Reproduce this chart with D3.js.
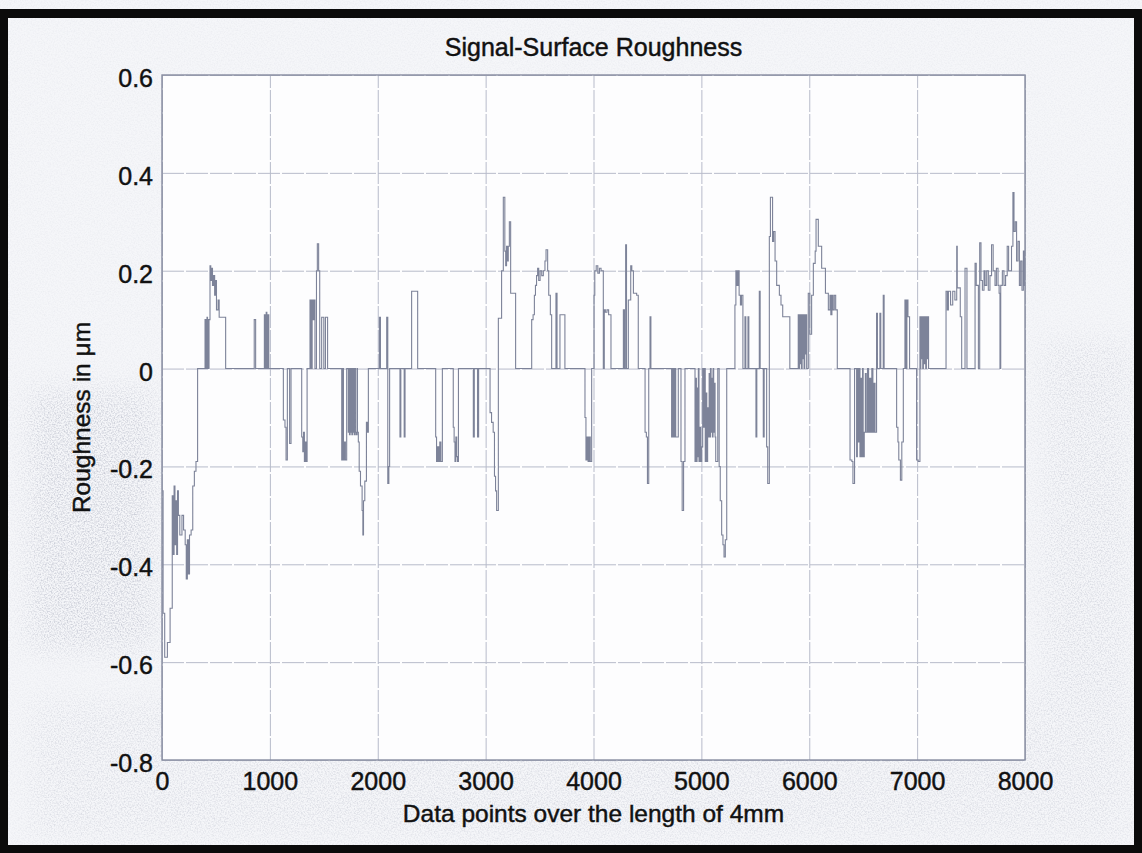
<!DOCTYPE html>
<html>
<head>
<meta charset="utf-8">
<script src="https://cdn.jsdelivr.net/npm/d3@7"></script>
<style>
  html, body { margin: 0; padding: 0; background: #ffffff; }
  svg { display: block; }
</style>
</head>
<body>
<script>
// Profile of the surface: sample index where each level starts, and its roughness (µm)
const sampleIndex = [
  0, 10, 25, 50, 75, 95, 105, 112, 120, 128, 136, 144, 152, 165, 185, 200, 215, 225, 235, 245, 255, 270, 285, 300, 315, 330,
  399, 404, 408, 413, 417, 422, 426, 432, 436, 445, 452, 460, 468, 478, 488, 498, 505, 520, 530, 590,
  855, 868, 949, 957, 966, 972, 980, 990,
  1125, 1140, 1150, 1162, 1183, 1196,
  1295, 1305, 1312, 1320, 1328, 1335, 1345,
  1372, 1378, 1382, 1388, 1392, 1400, 1410, 1418, 1432, 1440, 1452, 1462, 1480, 1500, 1515, 1535,
  1666, 1675, 1682, 1690, 1700, 1712, 1727, 1733, 1738, 1744, 1749, 1755, 1760, 1766, 1771, 1777, 1782, 1788, 1793, 1800, 1808,
  1812, 1820, 1828, 1840, 1855, 1862, 1868, 1880, 1895, 1905, 1913,
  2015, 2025, 2083, 2093, 2103, 2110, 2206, 2214, 2245, 2253, 2314, 2370,
  2537, 2545, 2555, 2565, 2575, 2585, 2599,
  2700, 2708, 2716, 2724, 2732, 2740, 2748, 2886, 2895, 2925, 2935,
  3041, 3055, 3070, 3082, 3092, 3102, 3118, 3148, 3164, 3178, 3186, 3194, 3202, 3210, 3220, 3232, 3278,
  3427, 3440, 3452, 3462, 3472, 3482, 3492, 3505, 3520, 3535, 3550, 3560, 3575, 3585, 3600, 3612,
  3652, 3662, 3689, 3735,
  3921, 3930, 3940, 3950, 3960, 3970, 3983,
  4005, 4012, 4025, 4040, 4055, 4070, 4091, 4100, 4110, 4125, 4140, 4162,
  4277, 4287, 4298, 4306, 4323, 4345, 4355, 4370, 4400, 4415,
  4478, 4490, 4500, 4512, 4524, 4532,
  4724, 4730, 4735, 4742, 4748, 4755, 4762, 4786, 4811, 4822, 4835, 4848,
  4941, 4948, 4954, 4960, 4966, 4972, 4978, 4986, 4994, 5003, 5012, 5020, 5030, 5036, 5044, 5050, 5058, 5066, 5072, 5078, 5084,
  5090, 5096, 5102, 5108, 5114, 5120, 5127, 5133, 5152, 5165, 5175, 5188, 5200, 5210, 5222, 5235,
  5311, 5320, 5330, 5340, 5350, 5362, 5372, 5385, 5404, 5412, 5432, 5440,
  5506, 5514, 5537, 5545, 5574, 5582, 5605, 5615, 5630, 5640, 5660, 5670, 5683, 5698, 5723, 5738, 5754, 5820,
  5898, 5904, 5910, 5916, 5922, 5928, 5934, 5940, 5946, 5952, 5958, 5964, 5970, 5976,
  5991, 6005, 6022, 6038, 6055, 6063, 6084, 6115, 6150, 6177, 6192, 6200, 6210, 6220, 6232, 6245, 6260,
  6378, 6395, 6405, 6420, 6439, 6446, 6452, 6460, 6470, 6478, 6486, 6494, 6500, 6510, 6520, 6528, 6540, 6550, 6560, 6570, 6580,
  6590, 6600, 6610, 6624, 6632, 6655, 6663, 6686, 6694,
  6810, 6822, 6830, 6845, 6858, 6872, 6887, 6897, 6905, 6915, 6930,
  6995, 7010, 7026, 7030, 7034, 7040, 7046, 7052, 7058, 7066, 7072, 7080, 7086, 7094, 7100, 7106,
  7268, 7280, 7290, 7310, 7330, 7350, 7367, 7372, 7390, 7400, 7413, 7444, 7462, 7537, 7548, 7568,
  7580, 7592, 7605, 7620, 7630, 7645, 7660, 7675, 7690, 7705, 7722, 7735, 7750, 7760, 7768,
  7775, 7790, 7805, 7820, 7835, 7848, 7860, 7875, 7888, 7898, 7910, 7922, 7935, 7948, 7960, 7972, 7985, 7995, 8000
];
const roughness = [
  -0.25, -0.50, -0.59, -0.56, -0.49, -0.26, -0.38, -0.24, -0.36, -0.27, -0.38, -0.25, -0.30, -0.34, -0.30, -0.33, -0.36, -0.43, -0.35, -0.42, -0.34, -0.33, -0.24, -0.21, -0.19, 0,
  0.10, 0, 0.10, 0, 0.105, 0, 0.10, 0, 0.10, 0.21, 0.18, 0.205, 0.17, 0.19, 0.15, 0.18, 0.12, 0.14, 0.105, 0,
  0.10, 0, 0.11, 0, 0.115, 0, 0.11, 0,
  -0.105, -0.12, -0.187, 0, -0.153, 0,
  -0.14, -0.17, -0.13, -0.19, -0.15, -0.19, 0,
  0.14, 0, 0.14, 0, 0.14, 0.10, 0.14, 0, 0.20, 0.255, 0.20, 0, 0.105, 0, 0.105, 0,
  -0.187, 0, -0.187, -0.15, -0.187, 0, -0.13, 0, -0.135, 0, -0.13, 0, -0.135, 0, -0.13, 0, -0.135, 0, -0.13, -0.135, 0,
  -0.13, -0.15, -0.21, -0.24, -0.29, -0.34, -0.27, -0.23, -0.11, -0.13, 0,
  0.105, 0, 0.105, -0.235, -0.20, 0, -0.14, 0, -0.14, 0, 0.158, 0,
  -0.14, -0.19, -0.16, -0.19, -0.15, -0.19, 0,
  -0.12, -0.15, -0.19, -0.14, -0.18, -0.19, 0, -0.14, 0, -0.14, 0,
  -0.09, -0.11, -0.13, -0.22, -0.25, -0.29, 0.103, 0.20, 0.35, 0.24, 0.21, 0.25, 0.22, 0.25, 0.30, 0.154, 0,
  0.10, 0.11, 0.15, 0.17, 0.19, 0.205, 0.18, 0.20, 0.19, 0.20, 0.22, 0.243, 0.20, 0.15, 0.11, 0,
  0.154, 0, 0.11, 0,
  -0.10, -0.187, -0.14, -0.19, -0.14, -0.19, 0,
  0.15, 0.20, 0.21, 0.195, 0.205, 0.20, 0, 0.12, 0.115, 0.12, 0.11, 0,
  0.12, 0, 0.253, 0, 0.14, 0.21, 0.20, 0.154, 0.15, 0,
  -0.13, -0.14, -0.235, 0, 0.106, 0,
  -0.14, 0, -0.14, 0, -0.14, 0, -0.14, 0, -0.19, -0.29, -0.19, 0,
  -0.19, -0.02, -0.19, -0.04, -0.18, 0, -0.19, -0.12, -0.19, -0.16, 0, -0.12, 0, -0.19, -0.05, -0.19, -0.08, -0.14, -0.01, -0.14, 0,
  -0.13, -0.02, -0.14, 0, -0.13, -0.03, -0.14, -0.19, 0, -0.20, -0.27, -0.34, -0.36, -0.385, -0.35, 0,
  0.13, 0.20, 0.17, 0.20, 0.15, 0.13, 0.15, 0, 0.106, 0, 0.106, 0,
  -0.14, 0, 0.158, 0, -0.14, 0, -0.16, -0.235, 0.27, 0.35, 0.26, 0.28, 0.22, 0.17, 0.15, 0.13, 0.106, 0,
  0.11, 0, 0.11, 0.01, 0.11, 0, 0.11, 0.02, 0.11, 0, 0.11, 0.03, 0.11, 0,
  0.154, 0.07, 0.15, 0.215, 0.24, 0.305, 0.25, 0.205, 0.154, 0.12, 0.15, 0.11, 0.15, 0.12, 0.15, 0.12, 0,
  -0.187, -0.19, -0.235, 0, -0.18, 0, -0.15, 0, -0.18, -0.02, -0.18, 0, -0.18, -0.13, -0.01, -0.13, 0, -0.13, -0.02, -0.13, 0,
  -0.13, -0.03, -0.13, 0.113, 0, 0.113, 0, 0.15, 0,
  -0.12, -0.15, -0.187, -0.228, -0.15, 0, 0.14, 0, 0.14, 0.106, 0,
  -0.187, -0.19, 0.106, 0, 0.106, 0.02, 0.106, 0, 0.106, 0.01, 0.106, 0, 0.106, 0.02, 0.106, 0,
  0.158, 0.12, 0.158, 0.13, 0.158, 0.14, 0.25, 0.165, 0.165, 0.106, 0, 0.205, 0, 0.215, 0.17, 0,
  0.257, 0.18, 0.16, 0.20, 0.17, 0.20, 0.16, 0.19, 0.253, 0.20, 0.17, 0.205, 0.17, 0.154, 0,
  0.17, 0.20, 0.17, 0.19, 0.25, 0.20, 0.20, 0.25, 0.36, 0.28, 0.30, 0.22, 0.26, 0.17, 0.22, 0.16, 0.24, 0.17, 0.17
];

const xTicks = [0, 1000, 2000, 3000, 4000, 5000, 6000, 7000, 8000];
const yTicks = [-0.8, -0.6, -0.4, -0.2, 0, 0.2, 0.4, 0.6];
const chartTitle = "Signal-Surface Roughness";
const xAxisLabel = "Data points over the length of 4mm";
const yAxisLabel = "Roughness in \u03bcm";

const W = 1142, H = 853;
const box = { left: 162, right: 1025, top: 75, bottom: 760 };
const FONT = "'Liberation Sans', Arial, Helvetica, sans-serif";
const INK = "#111111";

const svg = d3.select("body").append("svg")
  .attr("width", W).attr("height", H)
  .attr("viewBox", `0 0 ${W} ${H}`);

// --- paper texture ---------------------------------------------------------
const defs = svg.append("defs");
const grain = defs.append("filter").attr("id", "grain")
  .attr("x", 0).attr("y", 0).attr("width", "100%").attr("height", "100%");
grain.append("feTurbulence").attr("type", "fractalNoise")
  .attr("baseFrequency", 0.7).attr("numOctaves", 2).attr("seed", 7);
grain.append("feColorMatrix").attr("type", "matrix")
  .attr("values", "0 0 0 0 0.50  0 0 0 0 0.52  0 0 0 0 0.60  2.4 0 0 0 -0.95");

const soft = defs.append("filter").attr("id", "soft")
  .attr("x", "-20%").attr("y", "-20%").attr("width", "140%").attr("height", "140%");
soft.append("feGaussianBlur").attr("stdDeviation", 14);

// soft-edged mask deciding where the speckle shows
const mask = defs.append("mask").attr("id", "speckleMask");
mask.append("rect").attr("width", W).attr("height", H).attr("fill", "#303030");
const maskAreas = mask.append("g").attr("filter", "url(#soft)");
[[28, 390, 128, 260, "#ffffff"], [1042, 340, 90, 500, "#a8a8a8"], [30, 700, 1100, 140, "#9a9a9a"]]
  .forEach(([px, py, pw, ph, c]) => {
    maskAreas.append("rect").attr("x", px).attr("y", py).attr("width", pw).attr("height", ph).attr("fill", c);
  });

svg.append("rect").attr("width", W).attr("height", H).attr("fill", "#f5f6f9");
svg.append("rect").attr("width", W).attr("height", H)
  .attr("filter", "url(#grain)").attr("mask", "url(#speckleMask)").attr("opacity", 0.75);

// --- axes area ---------------------------------------------------------------
const x = d3.scaleLinear().domain([0, 8000]).range([box.left, box.right]);
const y = d3.scaleLinear().domain([-0.8, 0.6]).range([box.bottom, box.top]);

svg.append("rect")
  .attr("x", box.left).attr("y", box.top)
  .attr("width", box.right - box.left).attr("height", box.bottom - box.top)
  .attr("fill", "#fdfdfe");

const plotG = svg.append("g");
const gridColor = "#b7bbca";

// grid lines
plotG.append("g")
  .attr("transform", `translate(0,${box.bottom})`)
  .call(d3.axisBottom(x).tickValues(xTicks).tickSize(-(box.bottom - box.top)).tickFormat(""))
  .call(g => g.select(".domain").remove())
  .call(g => g.selectAll("line").attr("stroke", gridColor).attr("stroke-width", 1)
    .attr("stroke-dasharray", "22,2"));
plotG.append("g")
  .attr("transform", `translate(${box.left},0)`)
  .call(d3.axisLeft(y).tickValues(yTicks).tickSize(-(box.right - box.left)).tickFormat(""))
  .call(g => g.select(".domain").remove())
  .call(g => g.selectAll("line").attr("stroke", gridColor).attr("stroke-width", 1)
    .attr("stroke-dasharray", "22,2"));

// the roughness trace
const profile = sampleIndex.map((s, i) => ({ s, v: roughness[i] }));
plotG.append("path")
  .datum(profile)
  .attr("fill", "none")
  .attr("stroke", "#7d8399")
  .attr("stroke-width", 1.1)
  .attr("d", d3.line().x(d => x(d.s)).y(d => y(d.v)).curve(d3.curveStepAfter));

// axes box
svg.append("rect")
  .attr("x", box.left).attr("y", box.top)
  .attr("width", box.right - box.left).attr("height", box.bottom - box.top)
  .attr("fill", "none").attr("stroke", "#878ca0").attr("stroke-width", 1.4);

// tick labels (plain hyphen for negatives)
const textStyle = sel => sel
  .attr("font-family", FONT).attr("fill", INK)
  .attr("stroke", INK).attr("stroke-width", 0.45);

const xAxis = svg.append("g")
  .attr("transform", `translate(0,${box.bottom})`)
  .call(d3.axisBottom(x).tickValues(xTicks).tickSizeInner(0).tickSizeOuter(0).tickPadding(12)
    .tickFormat(d => String(d)));
xAxis.select(".domain").remove();
xAxis.selectAll("text").attr("font-size", 25).call(textStyle);

const yAxis = svg.append("g")
  .attr("transform", `translate(${box.left},0)`)
  .call(d3.axisLeft(y).tickValues(yTicks).tickSizeInner(0).tickSizeOuter(0).tickPadding(9)
    .tickFormat(d => d === 0 ? "0" : d.toFixed(1)));
yAxis.select(".domain").remove();
yAxis.selectAll("text").attr("font-size", 25).attr("dy", "0.46em").call(textStyle);

// titles
svg.append("text")
  .attr("x", (box.left + box.right) / 2).attr("y", 56)
  .attr("text-anchor", "middle").attr("font-size", 25)
  .call(textStyle)
  .text(chartTitle);

svg.append("text")
  .attr("x", (box.left + box.right) / 2).attr("y", 822)
  .attr("text-anchor", "middle").attr("font-size", 24.5)
  .call(textStyle)
  .text(xAxisLabel);

svg.append("text")
  .attr("transform", `translate(90,${(box.top + box.bottom) / 2}) rotate(-90)`)
  .attr("text-anchor", "middle").attr("font-size", 24.5)
  .call(textStyle)
  .text(yAxisLabel);

// scanned page frame
const frame = svg.append("g").attr("fill", "#0b0b0b");
frame.append("rect").attr("x", 0).attr("y", 9).attr("width", W).attr("height", 9);
frame.append("rect").attr("x", 0).attr("y", 9).attr("width", 8).attr("height", H - 9);
frame.append("rect").attr("x", W - 8).attr("y", 9).attr("width", 8).attr("height", H - 9);
frame.append("rect").attr("x", 0).attr("y", H - 8).attr("width", W).attr("height", 8);
</script>
</body>
</html>
